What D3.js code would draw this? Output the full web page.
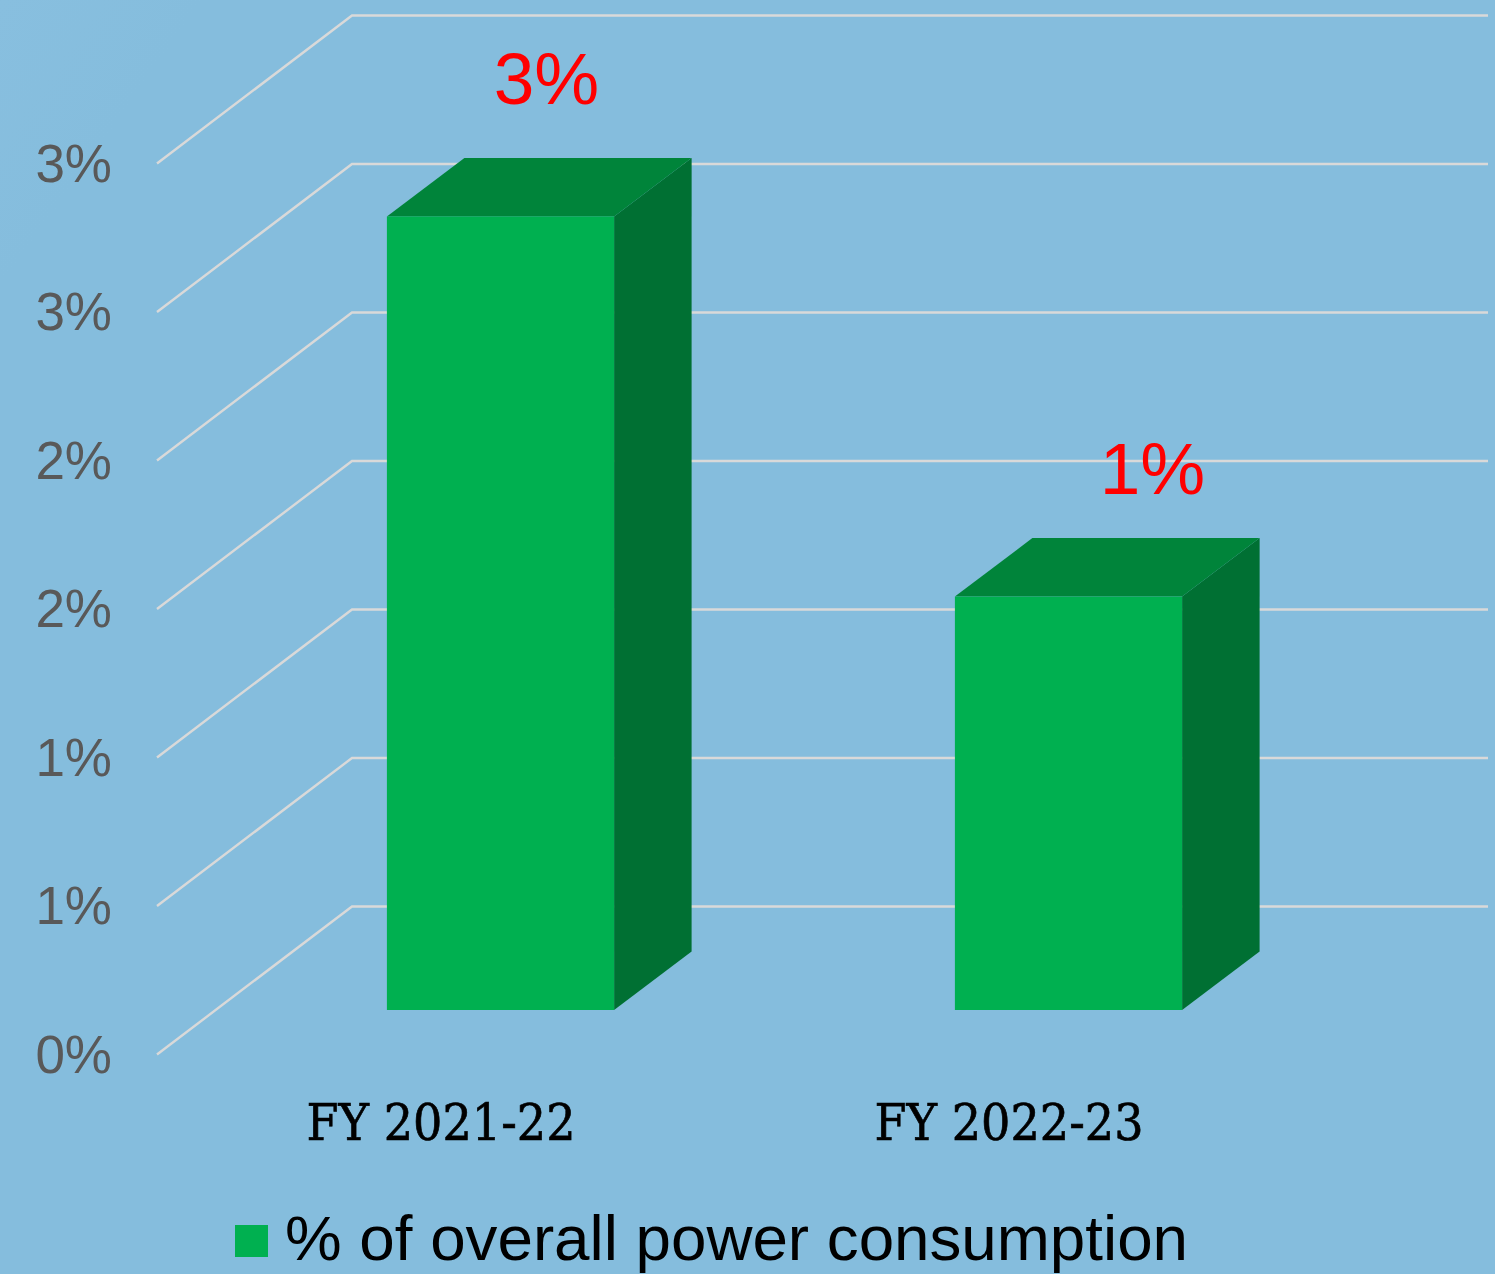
<!DOCTYPE html>
<html>
<head>
<meta charset="utf-8">
<script src="https://cdn.jsdelivr.net/npm/d3@7"></script>
<style>
  html, body { margin: 0; padding: 0; background: #85bddd; overflow: hidden; }
  svg { display: block; }
</style>
</head>
<body>
<svg></svg>
<script>
// chart values
const categories = ['FY 2021-22', 'FY 2022-23'];
const values = [2.672, 1.392];
const valueLabels = ['3%', '1%'];
const tickValues = [0, 0.5, 1, 1.5, 2, 2.5, 3];
const tickLabels = ['0%', '1%', '1%', '2%', '2%', '3%', '3%'];
const legendLabel = '% of overall power consumption';

const size = {w: 1495, h: 1274};
const svg = d3.select('svg')
    .attr('width', size.w)
    .attr('height', size.h);

// faint lighter corner in the slide background
const defs = svg.append('defs');
const bg = defs.append('linearGradient').attr('id', 'bg')
    .attr('x1', 0).attr('y1', 0).attr('x2', 1).attr('y2', 0.6);
bg.append('stop').attr('offset', '0%').attr('stop-color', '#88bfdf');
bg.append('stop').attr('offset', '10%').attr('stop-color', '#85bddd');
bg.append('stop').attr('offset', '100%').attr('stop-color', '#85bddd');
svg.append('rect').attr('width', size.w).attr('height', size.h).attr('fill', 'url(#bg)');

// front plane scales
const x = d3.scaleBand()
    .domain(categories)
    .range([157, 1293])
    .paddingInner(0)
    .paddingOuter(0);
const y = d3.scaleLinear()
    .domain([0, 3])
    .range([1054.5, 163.5]);

// fake 3d: floor depth, where the bar front sits, and how deep the bar is
const depth = {x: 195, y: -148};
const barOffset = {x: 59.5, y: -44.5};
const barDepth = {x: 77.5, y: -58.5};
const barShare = 0.4;

// gridlines, floor diagonal then back wall
const gridG = svg.append('g').classed('grid', true);
gridG.selectAll('polyline')
    .data(tickValues)
    .join('polyline')
    .attr('points', d => {
        const x0 = x.range()[0], x1 = x.range()[1];
        return [[x0, y(d)], [x0 + depth.x, y(d) + depth.y], [x1 + depth.x, y(d) + depth.y]].join(' ');
    })
    .attr('fill', 'none')
    .attr('stroke', '#d9d9d9')
    .attr('stroke-width', 2.4);

// y tick labels
svg.append('g').classed('ticks', true)
    .selectAll('text')
    .data(tickValues)
    .join('text')
    .attr('x', 112)
    .attr('y', d => y(d) + 18)
    .attr('text-anchor', 'end')
    .attr('font-family', '"Liberation Sans", Arial, sans-serif')
    .attr('font-size', 53)
    .attr('fill', '#595959')
    .text((d, i) => tickLabels[i]);

// bars
const barW = x.bandwidth() * barShare;
const bars = categories.map((c, i) => {
    const cx = x(c) + x.bandwidth() / 2 + barOffset.x;
    return {
        c: c,
        l: cx - barW / 2,
        r: cx + barW / 2,
        top: y(values[i]) + barOffset.y,
        base: y(0) + barOffset.y,
        sx: barDepth.x,
        sy: barDepth.y
    };
});
const barG = svg.append('g').classed('bars', true)
    .selectAll('g')
    .data(bars)
    .join('g');

barG.append('polygon') // side
    .attr('points', d => [[d.r, d.top], [d.r + d.sx, d.top + d.sy], [d.r + d.sx, d.base + d.sy], [d.r, d.base]].join(' '))
    .attr('fill', '#007033');
barG.append('polygon') // top
    .attr('points', d => [[d.l, d.top], [d.l + d.sx, d.top + d.sy], [d.r + d.sx, d.top + d.sy], [d.r, d.top]].join(' '))
    .attr('fill', '#00843a');
barG.append('rect') // front
    .attr('x', d => d.l)
    .attr('y', d => d.top)
    .attr('width', d => d.r - d.l)
    .attr('height', d => d.base - d.top)
    .attr('fill', '#00b050');

// value labels were dragged by hand in the original, so each has its own nudge
const labelNudge = [[46, -54], [84, -44]];
svg.append('g').classed('value-labels', true)
    .selectAll('text')
    .data(bars)
    .join('text')
    .attr('x', (d, i) => (d.l + d.r) / 2 + labelNudge[i][0])
    .attr('y', (d, i) => d.top + d.sy + labelNudge[i][1])
    .attr('text-anchor', 'middle')
    .attr('font-family', '"Liberation Sans", Arial, sans-serif')
    .attr('font-size', 73)
    .attr('fill', '#ff0000')
    .text((d, i) => valueLabels[i]);

// category labels, squeezed because the original slab font is taller and narrower
svg.append('g').classed('categories', true)
    .selectAll('text')
    .data(categories)
    .join('text')
    .attr('x', d => x(d) + x.bandwidth() / 2)
    .attr('y', 1140)
    .attr('text-anchor', 'middle')
    .attr('font-family', '"DejaVu Serif", serif')
    .attr('font-size', 50)
    .attr('fill', '#000')
    .attr('stroke', '#000')
    .attr('stroke-width', 0.7)
    .attr('textLength', 269)
    .attr('lengthAdjust', 'spacingAndGlyphs')
    .text(d => d);

// legend
svg.append('rect')
    .attr('x', 235).attr('y', 1225)
    .attr('width', 33).attr('height', 32)
    .attr('fill', '#00b050');
svg.append('text')
    .attr('x', 285).attr('y', 1260)
    .attr('font-family', '"Liberation Sans", Arial, sans-serif')
    .attr('font-size', 63)
    .attr('fill', '#000')
    .attr('textLength', 903)
    .attr('lengthAdjust', 'spacingAndGlyphs')
    .text(legendLabel);
</script>
</body>
</html>
